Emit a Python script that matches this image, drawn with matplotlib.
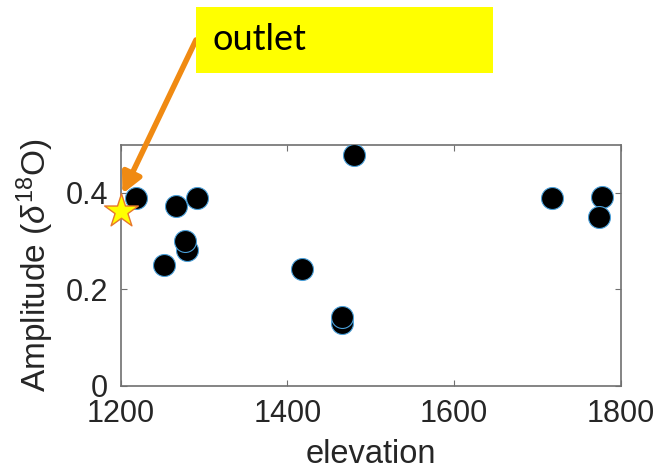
import matplotlib
matplotlib.use("Agg")
import matplotlib.pyplot as plt
from matplotlib.patches import Rectangle

elevation = [1218, 1266, 1292, 1280, 1277, 1252, 1417, 1480, 1465, 1465, 1718, 1777, 1774]
amplitude = [0.390, 0.372, 0.390, 0.282, 0.301, 0.250, 0.241, 0.479, 0.130, 0.143, 0.390, 0.391, 0.350]
outlet_elev = [1200]
outlet_amp = [0.362]
xticks = [1200, 1400, 1600, 1800]
yticks = [0, 0.2, 0.4]

plt.rcParams['font.family'] = ['Liberation Sans', 'DejaVu Sans']
plt.rcParams['mathtext.fontset'] = 'custom'
plt.rcParams['mathtext.rm'] = 'Liberation Sans'
plt.rcParams['mathtext.it'] = 'Liberation Sans:italic'

fig = plt.figure(figsize=(6.56, 4.76), dpi=100)
ax = fig.add_axes([120.7/656, 1-385.5/476, 500/656, 240.8/476])

ax.scatter(elevation, amplitude, s=250, c='black', edgecolors='#4a9fd8', linewidths=0.8, zorder=3)
ax.scatter(outlet_elev, outlet_amp, s=650, marker='*', c='#ffff00', edgecolors='#e8772a',
           linewidths=1.0, zorder=4, clip_on=False)

ax.set_xlim(1200, 1800)
ax.set_ylim(0, 0.5)
ax.set_xticks(xticks)
ax.set_xticklabels([str(t) for t in xticks])
ax.set_yticks(yticks)
ax.set_yticklabels(['0', '0.2', '0.4'])
ax.tick_params(direction='in', length=4, width=0.8, top=True, right=True,
               labelsize=22, colors='#707070', labelcolor='#262626')
ax.tick_params(axis='x', pad=10)
ax.tick_params(axis='y', pad=9)
for sp in ax.spines.values():
    sp.set_color('#707070')
    sp.set_linewidth(1.2)

ax.set_xlabel('elevation', fontsize=23.5, color='#262626', labelpad=7)
ax.set_ylabel(r'Amplitude ($\mathit{\delta}^{18}$O)', fontsize=24, color='#262626', labelpad=7)

# yellow label box
fig.patches.append(Rectangle((196/656, 1-73/476), 297/656, 66.3/476,
                             transform=fig.transFigure, facecolor='#ffff00',
                             edgecolor='none', zorder=1))
fig.text(213/656, 1-40/476, 'outlet', fontsize=26, family='Lato', color='black',
         va='center', ha='left', zorder=2)

ax.annotate('', xy=(1202, 0.398), xycoords='data',
            xytext=(196/656, 1-40/476), textcoords='figure fraction',
            arrowprops=dict(arrowstyle='-|>,head_length=1.2,head_width=0.6',
                            color='#f08a12', lw=4, shrinkA=0, shrinkB=0),
            annotation_clip=False, zorder=5)

fig.savefig('out.png', dpi=100)
